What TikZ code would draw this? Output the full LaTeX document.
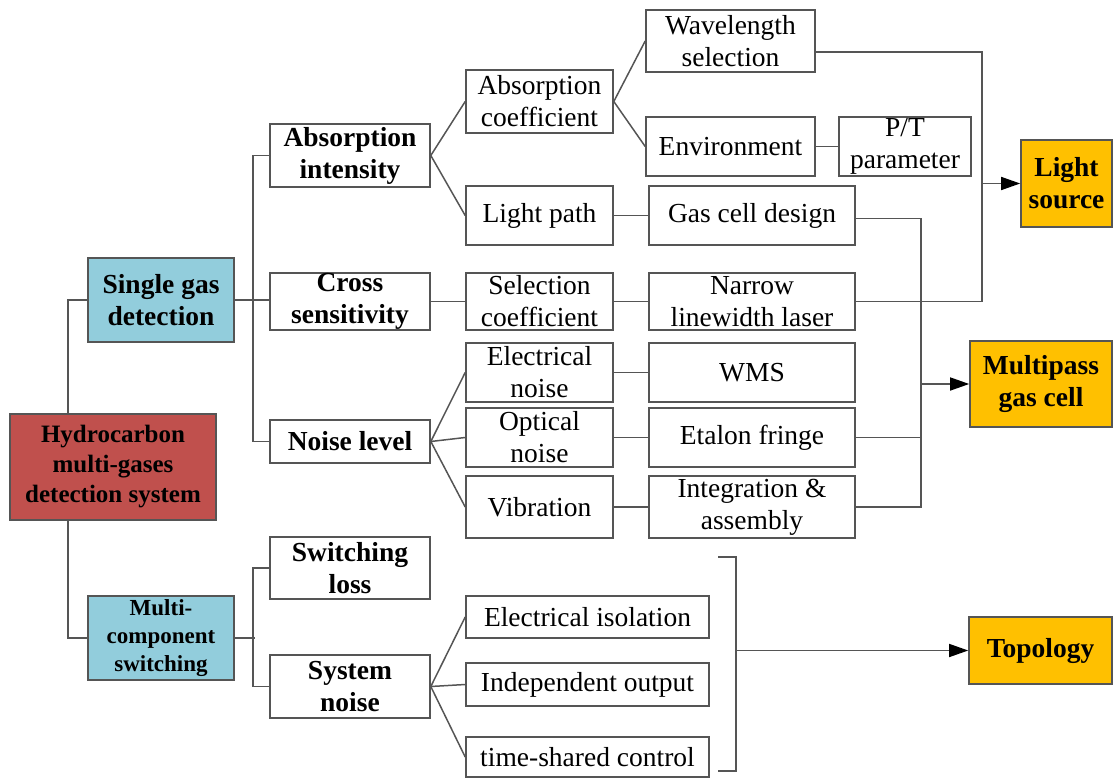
\documentclass[tikz,border=0pt]{standalone}
\usepackage{fontspec}
\setmainfont{Liberation Serif}
\usetikzlibrary{arrows.meta}
\definecolor{redbox}{RGB}{192,80,77}
\definecolor{bluebox}{RGB}{146,205,220}
\definecolor{orangebox}{RGB}{255,192,0}
\definecolor{edgegray}{RGB}{85,85,85}
\tikzset{
  box/.style={draw=edgegray, line width=1.6pt, rectangle, inner sep=0pt, align=center,
    font=\fontsize{27.5}{32}\selectfont},
  bbox/.style={box, font=\fontsize{27.5}{32}\selectfont\bfseries},
  redn/.style={bbox, fill=redbox, font=\fontsize{25}{30}\selectfont\bfseries},
  bluen/.style={bbox, fill=bluebox},
  orangen/.style={bbox, fill=orangebox},
  wire/.style={draw=edgegray, line width=1.5pt},
  arr/.style={wire, -{Triangle[length=19pt,width=13pt,color=black]}},
}
\begin{document}
\begin{tikzpicture}[x=1pt,y=-1pt]
\useasboundingbox (0,0) rectangle (1113,778);
% level 0/1
\node[redn, minimum width=206pt, minimum height=106pt] (hyd) at (113,467) {Hydrocarbon\\multi-gases\\detection system};
\node[bluen, minimum width=146pt, minimum height=84pt] (sgd) at (161,300) {Single gas\\detection};
\node[bluen, minimum width=146pt, minimum height=84pt, font=\fontsize{23}{28}\selectfont\bfseries] (mcs) at (161,638) {Multi-\\component\\switching};
% level 2
\node[bbox, minimum width=160pt, minimum height=63pt] (ai) at (350,155.5) {Absorption\\intensity};
\node[bbox, minimum width=160pt, minimum height=57pt] (cs) at (350,301.5) {Cross\\sensitivity};
\node[bbox, minimum width=160pt, minimum height=43pt] (nl) at (350,441.5) {Noise level};
\node[bbox, minimum width=160pt, minimum height=62pt] (sl) at (350,568) {Switching\\loss};
\node[bbox, minimum width=160pt, minimum height=63pt] (sn) at (350,686.5) {System\\noise};
% level 3
\node[box, minimum width=147pt, minimum height=63pt] (ac) at (539.5,101.5) {Absorption\\coefficient};
\node[box, minimum width=147pt, minimum height=59pt] (lp) at (539.5,215.5) {Light path};
\node[box, minimum width=147pt, minimum height=57pt] (sc) at (539.5,301.5) {Selection\\coefficient};
\node[box, minimum width=147pt, minimum height=59pt] (en) at (539.5,372.5) {Electrical\\noise};
\node[box, minimum width=147pt, minimum height=59pt] (on) at (539.5,437.5) {Optical\\noise};
\node[box, minimum width=147pt, minimum height=62pt] (vb) at (539.5,507) {Vibration};
\node[box, minimum width=243pt, minimum height=42pt] (ei) at (587.5,617) {Electrical isolation};
\node[box, minimum width=243pt, minimum height=43pt] (io) at (587.5,684.5) {Independent output};
\node[box, minimum width=243pt, minimum height=40pt] (tc) at (587.5,757) {time-shared control};
% level 4
\node[box, minimum width=169pt, minimum height=62pt] (ws) at (730.5,41) {Wavelength\\selection};
\node[box, minimum width=169pt, minimum height=59pt] (env) at (730.5,146.5) {Environment};
\node[box, minimum width=132pt, minimum height=59pt] (pt) at (905,146.5) {P/T\\parameter};
\node[box, minimum width=206pt, minimum height=59pt] (gcd) at (752,215.5) {Gas cell design};
\node[box, minimum width=206pt, minimum height=57pt] (nll) at (752,301.5) {Narrow\\linewidth laser};
\node[box, minimum width=206pt, minimum height=59pt] (wms) at (752,372.5) {WMS};
\node[box, minimum width=206pt, minimum height=59pt] (ef) at (752,437.5) {Etalon fringe};
\node[box, minimum width=206pt, minimum height=62pt] (ia) at (752,507) {Integration \&\\assembly};
% targets
\node[orangen, minimum width=91pt, minimum height=87pt] (ls) at (1066.5,183.5) {Light\\source};
\node[orangen, minimum width=142pt, minimum height=86pt] (mgc) at (1041,384) {Multipass\\gas cell};
\node[orangen, minimum width=143pt, minimum height=67pt] (top) at (1040.5,650.5) {Topology};
% root connectors
\draw[wire] ([xshift=59pt]hyd.north west) |- (sgd.west);
\draw[wire] ([xshift=59pt]hyd.south west) |- (mcs.west);
% single gas tree
\draw[wire] (sgd.east) -- (sgd.east -| cs.west);
\draw[wire] (ai.west) -- ++(-16,0) |- (nl.west);
\draw[wire] (mcs.east) -- ++(20,0);
\draw[wire] (sl.west) -- ++(-16,0) |- (sn.west);
% fans
\draw[wire] (ai.east) -- (ac.west);
\draw[wire] (ai.east) -- (lp.west);
\draw[wire] (ac.east) -- (ws.west);
\draw[wire] (ac.east) -- (env.west);
\draw[wire] (env.east) -- (pt.west);
\draw[wire] (lp.east) -- (gcd.west);
\draw[wire] (cs.east) -- (sc.west);
\draw[wire] (sc.east) -- (nll.west);
\draw[wire] (nl.east) -- (en.west);
\draw[wire] (nl.east) -- (on.west);
\draw[wire] (nl.east) -- (vb.west);
\draw[wire] (en.east) -- (wms.west);
\draw[wire] (on.east) -- (ef.west);
\draw[wire] (vb.east) -- (ia.west);
\draw[wire] (sn.east) -- (ei.west);
\draw[wire] (sn.east) -- (io.west);
\draw[wire] (sn.east) -- (tc.west);
% light source bus
\coordinate (lbus) at (982,0);
\draw[wire] ([yshift=-11pt]ws.east) -| (lbus |- nll.east) -- (nll.east);
\draw[arr] (lbus |- ls.west) -- (ls.west);
% multipass bus
\coordinate (mbus) at (921,0);
\draw[wire] ([yshift=-3pt]gcd.east) -| (mbus |- ia.east) -- (ia.east);
\draw[wire] (ef.east) -- (mbus |- ef.east);
\draw[arr] (mbus |- mgc.west) -- (mgc.west);
% bracket to topology
\coordinate (brt) at (736,557);
\coordinate (brb) at (736,771);
\draw[wire] ([xshift=-18pt]brt) -- (brt) -- (brb) -- ([xshift=-18pt]brb);
\draw[arr] (brt |- top.west) -- (top.west);
\end{tikzpicture}
\end{document}
